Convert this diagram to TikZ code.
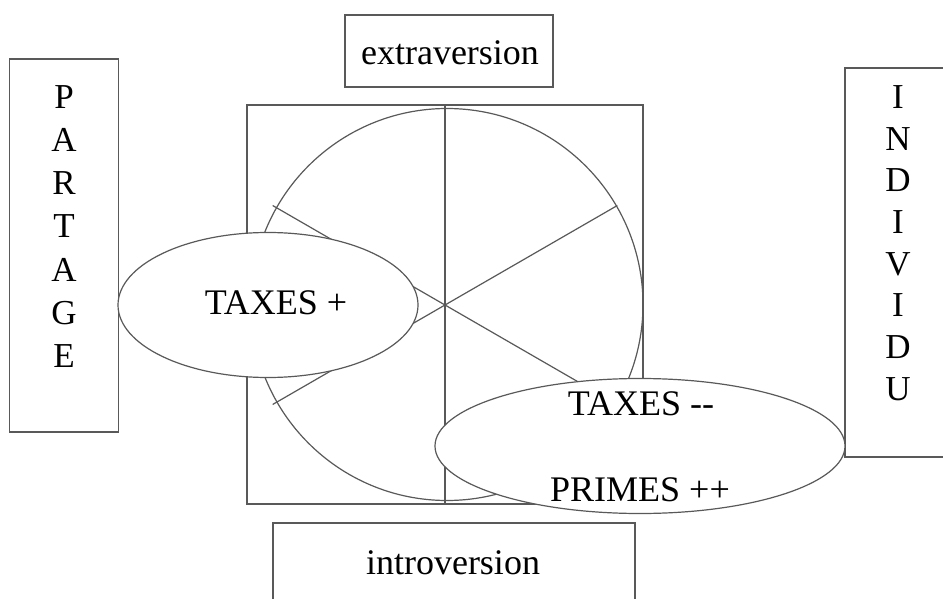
\documentclass[tikz,border=0pt]{standalone}
\usepackage{fontspec}
\setmainfont{Liberation Serif}
\usetikzlibrary{shapes.geometric}
\begin{document}
\begin{tikzpicture}[x=1pt,y=-1pt,
  ln/.style={draw=black!65,line width=1.2pt},
  frame/.style={ln,rectangle,inner sep=0pt},
  oval/.style={ln,ellipse,fill=white,inner sep=0pt},
  lbl/.style={font=\fontsize{36}{42}\selectfont,inner sep=0pt},
  vlbl/.style={lbl,align=center}]
\useasboundingbox[fill=white] (0,0) rectangle (943,599);

% outer boxes
\node[frame,minimum width=208pt,minimum height=72pt] (extra) at (449,51) {};
\node[lbl] (extraT) at (450,53) {extraversion};
\node[frame,minimum width=109pt,minimum height=373pt] (partage) at (64,245.5) {};
\node[vlbl,font=\fontsize{35}{43.3}\selectfont] (partageT) at (64,226.5) {P\\A\\R\\T\\A\\G\\E};
\node[frame,minimum width=110pt,minimum height=389pt] (indiv) at (900,262.5) {};
\node[vlbl,font=\fontsize{35}{41.7}\selectfont] (indivT) at (898,243) {I\\N\\D\\I\\V\\I\\D\\U};
\node[frame,minimum width=362pt,minimum height=100pt] (intro) at (454,573) {};
\node[lbl] (introT) at (453,563) {introversion};

% square with inscribed wheel
\node[frame,minimum width=396pt,minimum height=399pt] (sq) at (445,304.5) {};
\node[ln,circle,minimum size=392pt,inner sep=0pt] (wheel) at (447,304.5) {};
\coordinate (c) at (445,305);
\draw[ln] (sq.north) -- (sq.south);
\draw[ln] (c) -- ++(30:199) (c) -- ++(150:199) (c) -- ++(210:199) (c) -- ++(330:199);

% ellipses
\node[oval,minimum width=300pt,minimum height=145pt] (plus) at (268,305) {};
\node[lbl] (plusT) at (276,303) {TAXES +};
\node[oval,minimum width=410pt,minimum height=135pt] (minus) at (640,446) {};
\node[lbl] (minusT) at (641,404) {TAXES -{}-};
\node[lbl] (primesT) at (640,490) {PRIMES ++};
\end{tikzpicture}
\end{document}
